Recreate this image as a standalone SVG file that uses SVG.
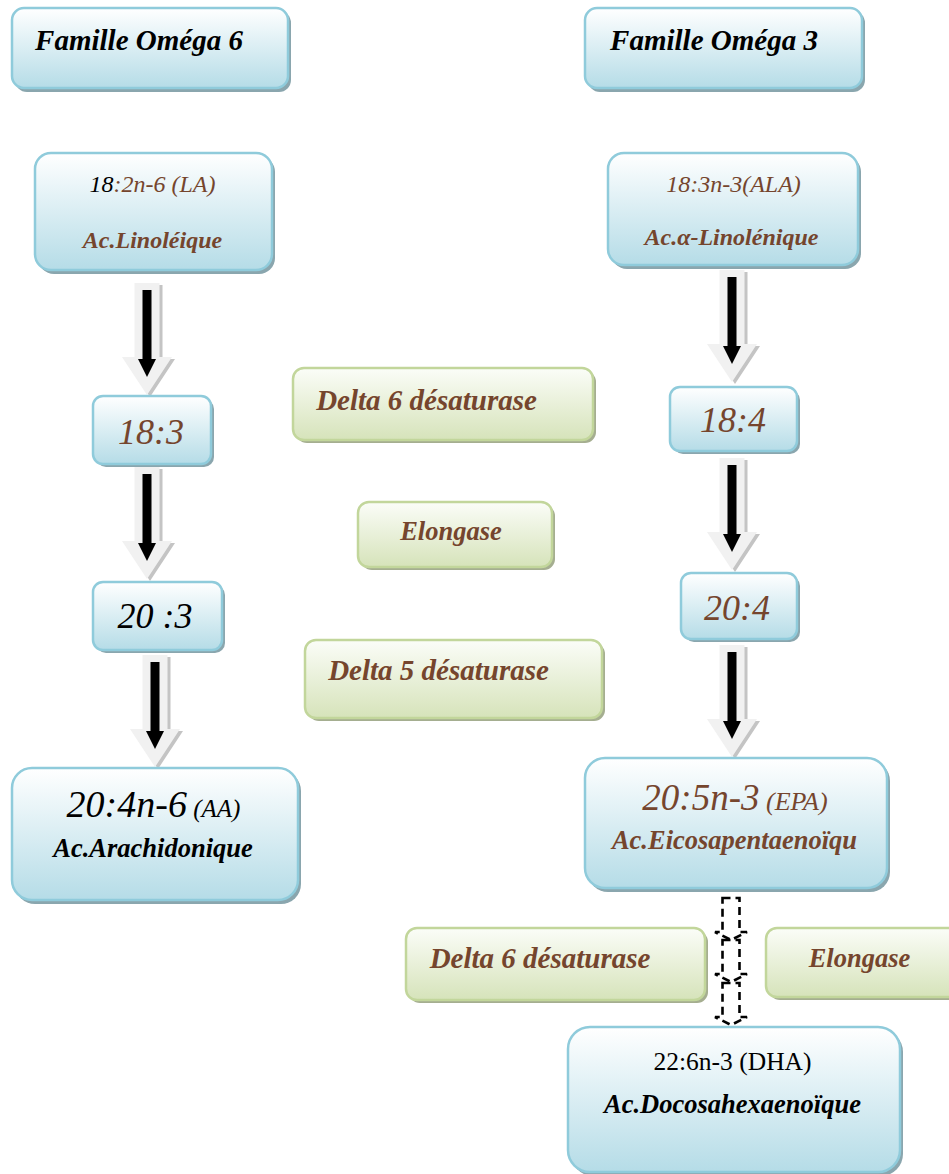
<svg xmlns="http://www.w3.org/2000/svg" width="949" height="1174" viewBox="0 0 949 1174">
<defs>
<linearGradient id="gb" x1="0" y1="0" x2="0" y2="1">
<stop offset="0" stop-color="#ffffff"/>
<stop offset="1" stop-color="#b5dce7"/>
</linearGradient>
<linearGradient id="gg" x1="0" y1="0" x2="0" y2="1">
<stop offset="0" stop-color="#fbfdf8"/>
<stop offset="1" stop-color="#d6e3ba"/>
</linearGradient>
<g id="arr">
<path d="M-9.5,2 H15.5 V76 H28 L3,114 L-22,76 H-9.5 Z" fill="#c4c4c4"/>
<path d="M-12.5,0 H12.5 V74 H25 L0,112 L-25,74 H-12.5 Z" fill="#f1f1f1"/>
<path d="M-4.5,7 H4.5 V76 H9 L0,94 L-9,76 H-4.5 Z" fill="#000"/>
</g>
<g id="darr">
<path d="M-8.5,0 H8.5 V34 H16 L0,42 L-16,34 H-8.5 Z" fill="none" stroke="#000" stroke-width="2.6" stroke-dasharray="8,5"/>
</g>
</defs>
<style>
.b{fill:url(#gb);stroke:#8fcbdb;stroke-width:2.5}
.bs{fill:#8aa6ae}
.g{fill:url(#gg);stroke:#c2d69b;stroke-width:2.5}
.gs{fill:#a5ae90}
text{font-family:"Liberation Serif","Times New Roman",serif;text-anchor:middle}
.bi{font-weight:bold;font-style:italic}
.i{font-style:italic}
.br{fill:#75452d}
.k{fill:#000}
</style>

<g id="connectors">
<use href="#arr" transform="translate(147,283)"/>
<use href="#arr" transform="translate(147,467)"/>
<use href="#arr" transform="translate(155,655)"/>
<use href="#arr" transform="translate(732,270)"/>
<use href="#arr" transform="translate(732,458)"/>
<use href="#arr" transform="translate(732,645)"/>
<use href="#darr" transform="translate(731,898)"/>
<use href="#darr" transform="translate(731,940)"/>
<use href="#darr" transform="translate(731,983)"/>
</g>

<g id="omega6">
<rect class="bs" x="15" y="11" width="276" height="81" rx="12"/>
<rect class="b" x="12" y="8" width="276" height="80" rx="12"/>
<text class="bi k" x="139" y="50" font-size="29">Famille Oméga 6</text>
</g>
<g id="omega3">
<rect class="bs" x="588" y="11" width="277" height="81" rx="12"/>
<rect class="b" x="585" y="8" width="277" height="80" rx="12"/>
<text class="bi k" x="714" y="50" font-size="29">Famille Oméga 3</text>
</g>

<g id="la">
<rect class="bs" x="38" y="156" width="237" height="118" rx="16"/>
<rect class="b" x="35" y="153" width="237" height="117" rx="16"/>
<text class="i" x="152.5" y="192" font-size="24"><tspan fill="#000">18</tspan><tspan fill="#75452d">:2n-6 (LA)</tspan></text>
<text class="bi br" x="152.5" y="248" font-size="24">Ac.Linoléique</text>
</g>
<g id="ala">
<rect class="bs" x="611" y="156" width="250" height="113" rx="16"/>
<rect class="b" x="608" y="153" width="250" height="112" rx="16"/>
<text class="i br" x="733.5" y="192" font-size="24">18:3n-3(ALA)</text>
<text class="bi br" x="731.5" y="245" font-size="24">Ac.α-Linolénique</text>
</g>

<g id="n183">
<rect class="bs" x="96" y="399" width="118" height="68" rx="10"/>
<rect class="b" x="93" y="396" width="118" height="68" rx="10"/>
<text class="i br" x="151" y="444" font-size="36">18:3</text>
</g>
<g id="n184">
<rect class="bs" x="673" y="390" width="127" height="64" rx="10"/>
<rect class="b" x="670" y="387" width="127" height="64" rx="10"/>
<text class="i br" x="733" y="432" font-size="36">18:4</text>
</g>
<g id="n203">
<rect class="bs" x="96" y="585" width="129" height="68" rx="10"/>
<rect class="b" x="93" y="582" width="129" height="68" rx="10"/>
<text class="i k" x="155" y="628" font-size="36">20 :3</text>
</g>
<g id="n204">
<rect class="bs" x="684" y="576" width="116" height="66" rx="10"/>
<rect class="b" x="681" y="573" width="116" height="66" rx="10"/>
<text class="i br" x="737" y="620" font-size="36">20:4</text>
</g>

<g id="aa">
<rect class="bs" x="15" y="771" width="286" height="133" rx="20"/>
<rect class="b" x="12" y="768" width="286" height="132" rx="20"/>
<text class="i k" x="153.5" y="817"><tspan font-size="38">20:4n-6</tspan><tspan font-size="25"> (AA)</tspan></text>
<text class="bi k" x="153" y="857" font-size="26.5">Ac.Arachidonique</text>
</g>
<g id="epa">
<rect class="bs" x="588" y="761" width="302" height="131" rx="20"/>
<rect class="b" x="585" y="758" width="302" height="130" rx="20"/>
<text class="i br" x="735" y="810"><tspan font-size="37">20:5n-3</tspan><tspan font-size="26"> (EPA)</tspan></text>
<text class="bi br" x="734.5" y="849" font-size="26.5">Ac.Eicosapentaenoïqu</text>
</g>
<g id="dha">
<rect class="bs" x="571" y="1030" width="332" height="146" rx="22"/>
<rect class="b" x="568" y="1027" width="332" height="145" rx="22"/>
<text class="k" x="732.5" y="1070" font-size="25.5">22:6n-3 (DHA)</text>
<text class="bi k" x="732.5" y="1113" font-size="26.5">Ac.Docosahexaenoïque</text>
</g>

<g id="d6a">
<rect class="gs" x="296" y="371" width="300" height="72" rx="11"/>
<rect class="g" x="293" y="368" width="300" height="72" rx="11"/>
<text class="bi br" x="426.5" y="410" font-size="29">Delta 6 désaturase</text>
</g>
<g id="elo1">
<rect class="gs" x="361" y="505" width="194" height="65" rx="11"/>
<rect class="g" x="358" y="502" width="194" height="65" rx="11"/>
<text class="bi br" x="451" y="540" font-size="26.5">Elongase</text>
</g>
<g id="d5">
<rect class="gs" x="308" y="643" width="297" height="78" rx="11"/>
<rect class="g" x="305" y="640" width="297" height="78" rx="11"/>
<text class="bi br" x="438.5" y="680" font-size="29">Delta 5 désaturase</text>
</g>
<g id="d6b">
<rect class="gs" x="409" y="931" width="299" height="72" rx="11"/>
<rect class="g" x="406" y="928" width="299" height="72" rx="11"/>
<text class="bi br" x="540" y="968" font-size="29">Delta 6 désaturase</text>
</g>
<g id="elo2">
<rect class="gs" x="769" y="931" width="200" height="69" rx="11"/>
<rect class="g" x="766" y="928" width="200" height="69" rx="11"/>
<text class="bi br" x="859.5" y="967" font-size="26.5">Elongase</text>
</g>
</svg>
